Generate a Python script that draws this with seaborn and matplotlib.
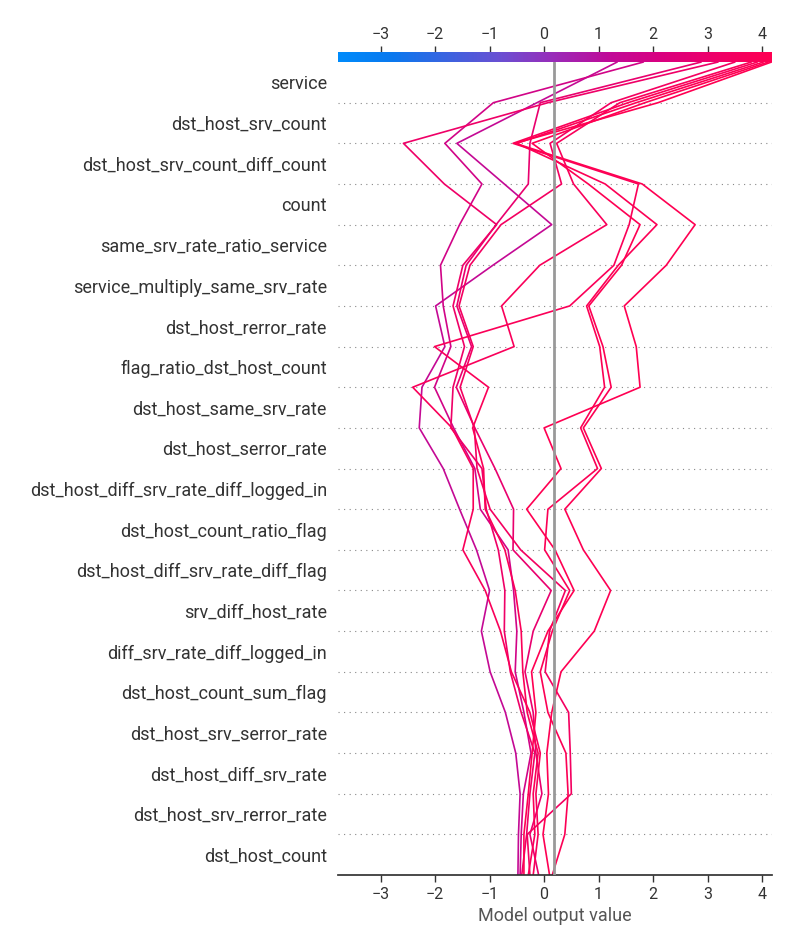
import numpy as np
import pandas as pd
import seaborn as sns
import matplotlib.pyplot as plt
from matplotlib.colors import LinearSegmentedColormap, Normalize
from matplotlib.cm import ScalarMappable

# feature names, top to bottom
features = [
    "service", "dst_host_srv_count", "dst_host_srv_count_diff_count", "count",
    "same_srv_rate_ratio_service", "service_multiply_same_srv_rate",
    "dst_host_rerror_rate", "flag_ratio_dst_host_count", "dst_host_same_srv_rate",
    "dst_host_serror_rate", "dst_host_diff_srv_rate_diff_logged_in",
    "dst_host_count_ratio_flag", "dst_host_diff_srv_rate_diff_flag",
    "srv_diff_host_rate", "diff_srv_rate_diff_logged_in", "dst_host_count_sum_flag",
    "dst_host_srv_serror_rate", "dst_host_diff_srv_rate", "dst_host_srv_rerror_rate",
    "dst_host_count",
]

base_value = 0.18

# cumulative model output per sample, listed from the top (final output) down to the bottom
s1 = [1.34, -0.13, -1.60, -0.73, 0.14, -0.94, -1.99, -1.82, -2.24, -2.29, -1.85,
      -1.55, -1.24, -1.00, -1.15, -0.99, -0.71, -0.52, -0.44, -0.47, -0.48]
s2 = [1.82, -0.93, -1.82, -1.14, -1.55, -1.90, -1.85, -1.71, -2.01, -1.66, -1.27,
      -1.17, -0.66, -0.56, -0.50, -0.53, -0.37, -0.24, -0.38, -0.42, -0.44]
s3 = [2.88, -0.07, -0.26, -0.29, -0.88, -1.43, -1.60, -1.33, -1.61, -1.27, -0.90,
      -0.56, -0.57, 0.13, -0.20, -0.35, -0.20, -0.15, -0.04, -0.26, -0.10]
s4 = [3.19, 0.07, -2.58, -1.83, -0.87, -1.49, -1.67, -1.46, -1.67, -1.71, -1.14,
      -1.06, -0.84, -0.72, -0.73, -0.62, -0.42, -0.17, -0.26, -0.32, -0.41]
s5 = [3.50, 1.23, 0.11, 0.32, -0.79, -1.36, -1.56, -1.30, -1.54, -1.28, -1.23,
      -0.99, -0.43, 0.39, 0.10, 0.02, 0.45, 0.48, 0.50, -0.31, -0.26]
s6 = [3.80, 1.39, 0.23, 0.54, 1.15, -0.08, -0.78, -0.55, -2.41, -1.69, -1.30,
      -1.30, -1.49, -1.08, -0.80, -0.60, -0.26, -0.07, -0.15, -0.11, -0.20]
s7 = [3.91, 1.54, -0.57, 1.73, 1.56, 1.28, 0.47, -2.01, -1.02, -1.31, -1.11,
      -1.08, -0.72, -0.53, -0.42, -0.39, -0.31, -0.11, -0.20, -0.17, -0.29]
s8 = [4.02, 1.69, -0.50, 1.12, 2.07, 1.36, 0.78, 1.02, 1.11, 0.67, 0.98,
      0.07, 0.01, 0.47, 0.15, -0.07, 0.07, 0.40, 0.44, 0.38, 0.15]
s9 = [4.11, 1.85, -0.22, 0.81, 1.76, 1.42, 0.82, 1.08, 1.23, 0.72, 1.05,
      0.38, 0.72, 1.22, 0.92, 0.31, 0.14, 0.05, 0.08, -0.02, 0.10]
s10 = [4.17, 2.09, -0.53, 1.80, 2.77, 2.24, 1.47, 1.69, 1.76, 0.00, 0.31,
       -0.32, 0.20, 0.55, 0.07, -0.23, -0.15, -0.22, -0.29, -0.37, -0.37]
samples = [s1, s2, s3, s4, s5, s6, s7, s8, s9, s10]

xlim = (-3.78, 4.18)

# shap-like red/blue colormap
red_blue = LinearSegmentedColormap.from_list(
    "red_blue",
    ["#008bfb", "#0a78ee", "#3b63e0", "#6a4fd2", "#9a2ab8", "#c00a98",
     "#da007e", "#ef0068", "#ff0052"],
)
norm = Normalize(*xlim)

rows = []
for k, vals in enumerate(samples):
    for lvl, v in zip(range(20, -1, -1), vals):
        rows.append({"sample": k, "level": lvl, "value": v})
df = pd.DataFrame(rows)
palette = {k: red_blue(norm(vals[0])) for k, vals in enumerate(samples)}

sns.set_theme(style="white")
plt.rcParams["font.family"] = ["Roboto", "DejaVu Sans"]

fig = plt.figure(figsize=(8, 9.5), dpi=100)
ax = fig.add_axes([0.4225, 0.0789, 0.5425, 0.8558])
cax = fig.add_axes([0.4225, 0.9347, 0.5425, 0.0105])

for i in range(1, 20):
    ax.axhline(i, color="#888888", lw=0.8, dashes=(1, 4), zorder=0)

sns.lineplot(data=df, x="value", y="level", hue="sample", palette=palette,
             sort=False, estimator=None, legend=False, linewidth=1.2, ax=ax, zorder=2)

ax.axvline(base_value, color="#999999", lw=2, zorder=3)

ax.set_xlim(*xlim)
ax.set_ylim(0, 20)
ax.set_yticks(np.arange(20) + 0.5)
ax.set_yticklabels(features[::-1], fontsize=13, color="#333333")
ax.tick_params(axis="y", length=0, pad=8)
ax.set_xticks(range(-3, 5))
ax.set_xticklabels([f"\u2212{abs(t)}" if t < 0 else str(t) for t in range(-3, 5)],
                   fontsize=11.5, color="#333333")
ax.tick_params(axis="x", length=5, width=1, color="#333333", bottom=True)
ax.set_xlabel("Model output value", fontsize=13, color="#555555")
ax.set_ylabel("")
for side in ["left", "right", "top"]:
    ax.spines[side].set_visible(False)
ax.spines["bottom"].set_color("#333333")

sm = ScalarMappable(norm=norm, cmap=red_blue)
cb = fig.colorbar(sm, cax=cax, orientation="horizontal")
cb.outline.set_visible(False)
cax.xaxis.set_ticks_position("top")
cax.set_xticks(range(-3, 5))
cax.set_xticklabels([f"\u2212{abs(t)}" if t < 0 else str(t) for t in range(-3, 5)],
                    fontsize=11.5, color="#333333")
cax.tick_params(axis="x", length=4, width=1, color="#333333", top=True, bottom=False)

fig.savefig("out.png", dpi=100)
